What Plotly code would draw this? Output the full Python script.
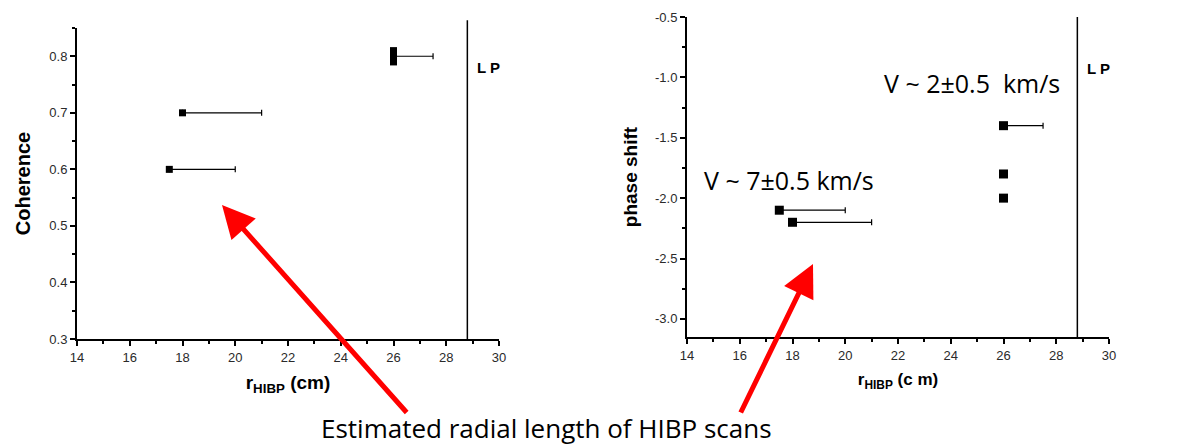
import plotly.graph_objects as go
from plotly.subplots import make_subplots

# left panel: coherence vs radius
coh_r = [26, 18, 17.5]
coh_val = [0.80, 0.70, 0.60]
coh_err = [1.5, 3.0, 2.5]
# extra points stacked at r = 26 (no error bars)
coh_r_extra = [26, 26]
coh_val_extra = [0.81, 0.79]

# right panel: phase shift vs radius
ph_r = [26, 17.5, 18]
ph_val = [-1.4, -2.1, -2.2]
ph_err = [1.5, 2.5, 3.0]
ph_r_extra = [26, 26]
ph_val_extra = [-1.8, -2.0]

lp_pos = 28.8
x_ticks = [14, 16, 18, 20, 22, 24, 26, 28, 30]
ph_ticks = [-3.0, -2.5, -2.0, -1.5, -1.0, -0.5]
ph_ticktext = ["-3.0", "-2.5", "-2.0", "-1.5", "-1.0", "-0.5"]

# page body has an 8px margin, so the figure sits at (8, 8)
OFF = 8
W, H = 1186 - OFF, 447 - OFF


def px(x):
    return (x - OFF) / W


def py(y):
    return 1 - (y - OFF) / H


tick_font = dict(family="Liberation Sans, Arial", size=13, color="#2a2a2a")
title_font = dict(family="Liberation Sans, Arial", size=18, color="black")

fig = make_subplots(rows=1, cols=2)

err_style = dict(type="data", symmetric=False, arrayminus=None,
                 color="black", thickness=1.2, width=3)

fig.add_trace(go.Scatter(
    x=coh_r, y=coh_val, mode="markers",
    marker=dict(symbol="square", size=7, color="black"),
    error_x=dict(array=coh_err, **err_style),
), row=1, col=1)
fig.add_trace(go.Scatter(
    x=coh_r_extra, y=coh_val_extra, mode="markers",
    marker=dict(symbol="square", size=7, color="black"),
), row=1, col=1)

fig.add_trace(go.Scatter(
    x=ph_r, y=ph_val, mode="markers",
    marker=dict(symbol="square", size=9, color="black"),
    error_x=dict(array=ph_err, **err_style),
), row=1, col=2)
fig.add_trace(go.Scatter(
    x=ph_r_extra, y=ph_val_extra, mode="markers",
    marker=dict(symbol="square", size=9, color="black"),
), row=1, col=2)

axis_common = dict(
    showline=True, linecolor="black", linewidth=2, mirror=False,
    showgrid=False, zeroline=False, ticks="outside", ticklen=5,
    tickwidth=1.5, tickcolor="black", tickfont=tick_font, automargin=False,
)

fig.update_xaxes(
    range=[14, 30], tickvals=x_ticks,
    minor=dict(dtick=1, ticks="outside", ticklen=3, tickcolor="black"),
    **axis_common,
)
fig.update_xaxes(domain=[px(77), px(499)], row=1, col=1,
                 title=dict(text="<b>r<sub>HIBP</sub> (cm)</b>", font=dict(title_font, size=19),
                            standoff=12))
fig.update_xaxes(domain=[px(687), px(1109)], row=1, col=2,
                 title=dict(text="<b>r<sub>HIBP</sub> (c m)</b>", font=dict(title_font, size=17),
                            standoff=12))

fig.update_yaxes(**axis_common)
fig.update_yaxes(domain=[py(339), py(28)], range=[0.3, 0.85], dtick=0.1,
                 tickformat=".1f",
                 minor=dict(dtick=0.05, ticks="outside", ticklen=3, tickcolor="black"),
                 title=dict(text="<b>Coherence</b>", font=dict(title_font, size=20), standoff=13),
                 row=1, col=1)
fig.update_yaxes(domain=[py(337), py(17)], range=[-3.15, -0.5],
                 tickvals=ph_ticks, ticktext=ph_ticktext,
                 minor=dict(dtick=0.25, ticks="outside", ticklen=3, tickcolor="black"),
                 title=dict(text="<b>phase shift</b>", font=dict(title_font, size=19), standoff=12),
                 row=1, col=2)

# LP boundary lines
for xr, yr, top in [("x", "y domain", 1.025), ("x2", "y2 domain", 1.0)]:
    fig.add_shape(type="line", xref=xr, yref=yr, x0=lp_pos, x1=lp_pos, y0=0, y1=top,
                  line=dict(color="black", width=1.5))

lp_font = dict(family="Liberation Sans, Arial", size=15, color="black")
fig.add_annotation(x=29.1, y=0.78, xref="x", yref="y", text="<b>L P</b>",
                   showarrow=False, xanchor="left", font=lp_font)
fig.add_annotation(x=29.1, y=-0.93, xref="x2", yref="y2", text="<b>L P</b>",
                   showarrow=False, xanchor="left", font=lp_font)

v_font = dict(family="Open Sans, Noto Sans", size=25, color="black")
fig.add_annotation(x=21.4, y=-1.05, xref="x2", yref="y2", text="V ~ 2±0.5  km/s",
                   showarrow=False, xanchor="left", font=v_font)
fig.add_annotation(x=14.55, y=-1.85, xref="x2", yref="y2", text="V ~ 7±0.5 km/s",
                   showarrow=False, xanchor="left", font=v_font)

# caption and red arrows
fig.add_annotation(x=px(546), y=py(432), xref="paper", yref="paper", yshift=-16,
                   text="Estimated radial length of HIBP scans", showarrow=False,
                   font=dict(family="Open Sans, Noto Sans", size=26, color="black"))
for hx, hy, tx, ty in [(222, 205, 408, 414), (813, 264, 740, 414)]:
    fig.add_annotation(x=px(hx), y=py(hy), xref="paper", yref="paper",
                       ax=tx - hx, ay=ty - hy, text="", showarrow=True,
                       arrowhead=2, arrowsize=1.3, arrowwidth=5, arrowcolor="#ff0000")

fig.update_layout(
    width=W, height=H, margin=dict(l=0, r=0, t=0, b=0, autoexpand=False),
    plot_bgcolor="white", paper_bgcolor="white", showlegend=False,
)

fig.write_html("out.html")
